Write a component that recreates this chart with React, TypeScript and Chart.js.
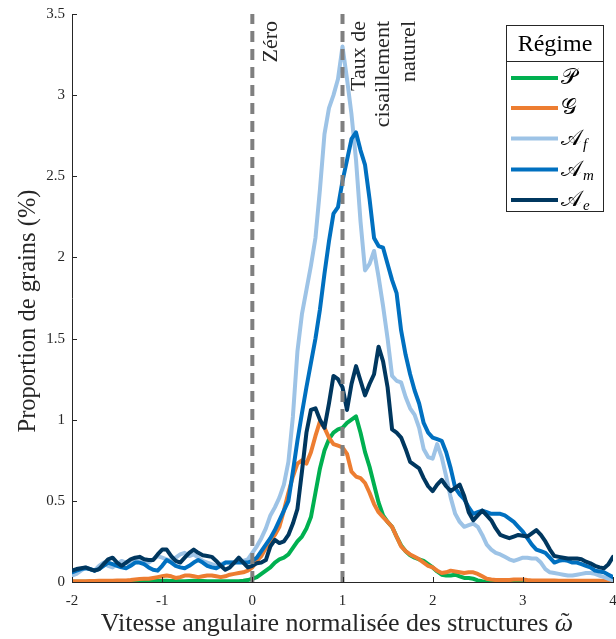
import React, { useEffect, useRef } from 'react';
import { Chart, registerables } from 'chart.js';

Chart.register(...registerables);

// Sampling grid of the normalised angular velocity (step 0.05 from -2 to 4)
const omega: number[] = Array.from({ length: 121 }, (_, i) => Math.round((-2 + i * 0.05) * 100) / 100);

const xTicks = [-2, -1, 0, 1, 2, 3, 4];
const yTicks = [0, 0.5, 1, 1.5, 2, 2.5, 3, 3.5];

const regimeP = [
  0.002, 0.002, 0.002, 0.002, 0.002, 0.002, 0.002, 0.002, 0.002, 0.002,
  0.002, 0.002, 0.002, 0.002, 0.003, 0.003, 0.004, 0.005, 0.006, 0.006,
  0.007, 0.007, 0.006, 0.006, 0.005, 0.005, 0.006, 0.007, 0.007, 0.006,
  0.005, 0.004, 0.004, 0.004, 0.005, 0.005, 0.005, 0.005, 0.008, 0.012,
  0.02, 0.03, 0.05, 0.07, 0.09, 0.12, 0.14, 0.15, 0.17, 0.21,
  0.25, 0.28, 0.33, 0.40, 0.55, 0.70, 0.81, 0.88, 0.92, 0.94,
  0.95, 0.98, 1.00, 1.02, 0.92, 0.80, 0.71, 0.60, 0.49, 0.41,
  0.37, 0.34, 0.28, 0.225, 0.19, 0.165, 0.15, 0.14, 0.13, 0.11,
  0.09, 0.065, 0.045, 0.04, 0.04, 0.045, 0.035, 0.025, 0.025, 0.02,
  0.01, 0.005, 0.002, 0.001, 0.001, 0.001, 0.001, 0.001, 0.001, 0.001,
  0.001, 0.001, 0.001, 0.001, 0.001, 0.001, 0.001, 0.001, 0.001, 0.001,
  0.001, 0.001, 0.001, 0.001, 0.001, 0.001, 0.001, 0.001, 0.001, 0.001,
  0.001,
];

const regimeG = [
  0.005, 0.005, 0.005, 0.005, 0.006, 0.006, 0.007, 0.007, 0.008, 0.008,
  0.009, 0.01, 0.01, 0.012, 0.015, 0.018, 0.02, 0.02, 0.025, 0.03,
  0.035, 0.04, 0.035, 0.025, 0.03, 0.04, 0.04, 0.035, 0.03, 0.035,
  0.04, 0.04, 0.035, 0.03, 0.035, 0.045, 0.05, 0.055, 0.06, 0.07,
  0.09, 0.13, 0.16, 0.21, 0.25, 0.29, 0.34, 0.44, 0.55, 0.65,
  0.73, 0.75, 0.73, 0.80, 0.90, 0.99, 0.95, 0.89, 0.85, 0.84,
  0.83, 0.79, 0.68, 0.65, 0.64, 0.61, 0.55, 0.48, 0.43, 0.40,
  0.37, 0.34, 0.28, 0.22, 0.19, 0.17, 0.155, 0.14, 0.12, 0.10,
  0.09, 0.07, 0.055, 0.06, 0.07, 0.065, 0.06, 0.055, 0.06, 0.06,
  0.05, 0.035, 0.02, 0.015, 0.012, 0.012, 0.012, 0.012, 0.015, 0.015,
  0.015, 0.012, 0.01, 0.01, 0.01, 0.01, 0.009, 0.009, 0.008, 0.008,
  0.008, 0.008, 0.008, 0.008, 0.008, 0.007, 0.007, 0.007, 0.006, 0.006,
  0.006,
];

const regimeAf = [
  0.04, 0.05, 0.07, 0.09, 0.08, 0.07, 0.10, 0.12, 0.10, 0.09,
  0.11, 0.13, 0.12, 0.11, 0.13, 0.15, 0.13, 0.12, 0.14, 0.16,
  0.15, 0.14, 0.13, 0.15, 0.17, 0.18, 0.16, 0.17, 0.15, 0.13,
  0.12, 0.11, 0.10, 0.11, 0.12, 0.12, 0.12, 0.13, 0.13, 0.14,
  0.18, 0.22, 0.27, 0.33, 0.41, 0.46, 0.52, 0.60, 0.74, 1.02,
  1.42, 1.65, 1.80, 1.95, 2.12, 2.42, 2.76, 2.92, 3.00, 3.10,
  3.30, 3.10, 2.88, 2.60, 2.22, 1.92, 1.96, 2.04, 1.88, 1.70,
  1.50, 1.27, 1.24, 1.23, 1.14, 1.07, 1.03, 0.95, 0.82, 0.77,
  0.76, 0.85, 0.77, 0.65, 0.52, 0.42, 0.37, 0.34, 0.35, 0.36,
  0.34, 0.29, 0.23, 0.20, 0.18, 0.17, 0.155, 0.14, 0.13, 0.14,
  0.15, 0.15, 0.145, 0.145, 0.12, 0.08, 0.06, 0.055, 0.05, 0.045,
  0.04, 0.04, 0.045, 0.05, 0.055, 0.055, 0.05, 0.04, 0.03, 0.02,
  0.01,
];

const regimeAm = [
  0.06, 0.07, 0.08, 0.085, 0.08, 0.07, 0.08, 0.10, 0.12, 0.11,
  0.10, 0.09, 0.085, 0.10, 0.12, 0.12, 0.11, 0.09, 0.075, 0.07,
  0.10, 0.135, 0.12, 0.10, 0.09, 0.085, 0.10, 0.12, 0.135, 0.12,
  0.10, 0.09, 0.085, 0.10, 0.12, 0.12, 0.12, 0.12, 0.12, 0.12,
  0.13, 0.15, 0.19, 0.23, 0.27, 0.32, 0.38, 0.44, 0.50, 0.68,
  0.87, 1.04, 1.20, 1.35, 1.50, 1.68, 1.90, 2.10, 2.27, 2.31,
  2.47, 2.60, 2.73, 2.77, 2.66, 2.57, 2.36, 2.12, 2.07, 2.06,
  1.96, 1.86, 1.78, 1.55, 1.40, 1.28, 1.18, 1.10, 0.98, 0.92,
  0.89, 0.88, 0.87, 0.80, 0.70, 0.58, 0.54, 0.51, 0.46, 0.42,
  0.43, 0.44, 0.43, 0.42, 0.42, 0.42, 0.41, 0.39, 0.37, 0.34,
  0.31, 0.27, 0.23, 0.20, 0.19, 0.18, 0.15, 0.12, 0.13, 0.135,
  0.13, 0.12, 0.12, 0.11, 0.10, 0.09, 0.07, 0.065, 0.06, 0.045,
  0.03,
];

const regimeAe = [
  0.07, 0.08, 0.085, 0.09, 0.08, 0.07, 0.08, 0.11, 0.14, 0.15,
  0.12, 0.10, 0.12, 0.14, 0.15, 0.155, 0.14, 0.135, 0.135, 0.17,
  0.20, 0.20, 0.16, 0.13, 0.12, 0.15, 0.18, 0.20, 0.18, 0.165,
  0.16, 0.155, 0.13, 0.10, 0.075, 0.09, 0.12, 0.15, 0.12, 0.09,
  0.10, 0.115, 0.12, 0.135, 0.22, 0.26, 0.24, 0.25, 0.29, 0.36,
  0.45, 0.68, 0.92, 1.06, 1.07, 1.00, 0.95, 1.10, 1.27, 1.25,
  1.20, 1.06, 1.22, 1.33, 1.24, 1.15, 1.22, 1.28, 1.45, 1.36,
  1.20, 0.94, 0.92, 0.89, 0.82, 0.74, 0.72, 0.70, 0.64, 0.59,
  0.56, 0.60, 0.63, 0.59, 0.56, 0.58, 0.60, 0.53, 0.43, 0.38,
  0.41, 0.44, 0.41, 0.38, 0.33, 0.29, 0.28, 0.27, 0.28, 0.29,
  0.285, 0.28, 0.30, 0.32, 0.29, 0.25, 0.20, 0.16, 0.155, 0.15,
  0.145, 0.145, 0.145, 0.14, 0.125, 0.115, 0.10, 0.09, 0.085, 0.11,
  0.155,
];

const markers = [0, 1];
const markerTop = 3.5;

const seriesNames = ['\u{1D4AB}', '\u{1D4A2}', '\u{1D49C}', '\u{1D49C}', '\u{1D49C}'];
const seriesSubs = ['', '', 'f', 'm', 'e'];
const seriesColors = ['#00B050', '#ED7D31', '#9DC3E6', '#0070C0', '#00375F'];
const seriesValues = [regimeP, regimeG, regimeAf, regimeAm, regimeAe];

const xTitle = 'Vitesse angulaire normalisée des structures ';
const xTitleSymbol = 'ω';
const yTitle = 'Proportion de grains (%)';

const SERIF = '"Liberation Serif", "DejaVu Serif", serif';
const INK = '#262626';

const overlayPlugin = {
  id: 'overlay',
  afterDraw(chart: any) {
    const { ctx, chartArea, scales } = chart;
    const xs = scales.x;
    const ys = scales.y;
    ctx.save();
    // inner tick marks
    ctx.strokeStyle = INK;
    ctx.lineWidth = 1;
    ctx.beginPath();
    xTicks.forEach((v) => {
      const px = Math.round(xs.getPixelForValue(v)) + 0.5;
      ctx.moveTo(px, chartArea.bottom);
      ctx.lineTo(px, chartArea.bottom - 5);
    });
    yTicks.forEach((v) => {
      const py = Math.round(ys.getPixelForValue(v)) + 0.5;
      ctx.moveTo(chartArea.left, py);
      ctx.lineTo(chartArea.left + 5, py);
    });
    ctx.stroke();

    // axis titles
    ctx.fillStyle = INK;
    ctx.textBaseline = 'alphabetic';
    ctx.font = `26px ${SERIF}`;
    const w1 = ctx.measureText(xTitle).width;
    ctx.font = `italic 26px ${SERIF}`;
    const w2 = ctx.measureText(xTitleSymbol).width;
    const xCenter = 337;
    const xStart = xCenter - (w1 + w2) / 2;
    const xBase = 631;
    ctx.textAlign = 'left';
    ctx.font = `26px ${SERIF}`;
    ctx.fillText(xTitle, xStart, xBase);
    ctx.font = `italic 26px ${SERIF}`;
    ctx.fillText(xTitleSymbol, xStart + w1, xBase);
    ctx.font = `26px ${SERIF}`;
    ctx.textAlign = 'center';
    ctx.fillText('˜', xStart + w1 + w2 / 2 + 1, xBase - 1);

    ctx.save();
    ctx.translate(35, 311);
    ctx.rotate(-Math.PI / 2);
    ctx.textAlign = 'center';
    ctx.font = `24.5px ${SERIF}`;
    ctx.fillText(yTitle, 0, 0);
    ctx.restore();

    // rotated annotations
    const top = 21;
    const drawRot = (text: string, x: number) => {
      ctx.save();
      ctx.translate(x, top);
      ctx.rotate(-Math.PI / 2);
      ctx.textAlign = 'right';
      ctx.textBaseline = 'alphabetic';
      ctx.fillStyle = INK;
      ctx.font = `22px ${SERIF}`;
      ctx.fillText(text, 0, 0);
      ctx.restore();
    };
    drawRot('Zéro', 277);
    drawRot('Taux de', 365);
    drawRot('cisaillement', 389);
    drawRot('naturel', 415);

    // legend
    const L = 506.5, T = 25.5, R = 603.5, B = 211.5;
    ctx.fillStyle = '#ffffff';
    ctx.fillRect(L, T, R - L, B - T);
    ctx.strokeStyle = INK;
    ctx.lineWidth = 1;
    ctx.strokeRect(L, T, R - L, B - T);
    ctx.beginPath();
    ctx.moveTo(L, 61.5);
    ctx.lineTo(R, 61.5);
    ctx.stroke();
    ctx.fillStyle = '#000000';
    ctx.font = `24px ${SERIF}`;
    ctx.textAlign = 'center';
    ctx.textBaseline = 'alphabetic';
    ctx.fillText('Régime', (L + R) / 2, 51);
    const rows = [78, 108, 138.5, 169.5, 200];
    rows.forEach((ry, i) => {
      ctx.strokeStyle = seriesColors[i];
      ctx.lineWidth = 4;
      ctx.beginPath();
      ctx.moveTo(511, ry);
      ctx.lineTo(558, ry);
      ctx.stroke();
      ctx.fillStyle = '#000000';
      ctx.textAlign = 'left';
      ctx.font = `22px ${SERIF}`;
      ctx.fillText(seriesNames[i], 561, ry + 6);
      const w = ctx.measureText(seriesNames[i]).width;
      if (seriesSubs[i]) {
        ctx.font = `italic 15px ${SERIF}`;
        ctx.fillText(seriesSubs[i], 561 + w + 1, ry + 10);
      }
    });
    ctx.restore();
  },
};

export default function App() {
  const ref = useRef<HTMLCanvasElement>(null);
  useEffect(() => {
    document.body.style.margin = '0';
    const markerSets = markers.map((m) => ({
      label: `m${m}`,
      data: [
        { x: m, y: 0 },
        { x: m, y: markerTop },
      ],
      borderColor: '#7F7F7F',
      borderWidth: 4,
      borderDash: [11, 7],
      pointRadius: 0,
      order: 0,
      clip: 0,
    }));
    const lineSets = seriesValues.map((vals, i) => ({
      label: seriesNames[i] + seriesSubs[i],
      data: omega.map((x, k) => ({ x, y: vals[k] })),
      borderColor: seriesColors[i],
      borderWidth: 4,
      pointRadius: 0,
      tension: 0,
      borderJoinStyle: 'round' as const,
      borderCapStyle: 'round' as const,
      order: 5 - i,
      clip: 0,
    }));
    const chart = new Chart(ref.current!, {
      type: 'line',
      data: { datasets: [...lineSets, ...markerSets] as any },
      options: {
        responsive: false,
        animation: false,
        events: [],
        layout: { padding: { top: 14, right: 3, left: 0, bottom: 0 } },
        plugins: { legend: { display: false }, tooltip: { enabled: false } },
        scales: {
          x: {
            type: 'linear',
            min: -2,
            max: 4,
            ticks: {
              stepSize: 1,
              autoSkip: false,
              maxRotation: 0,
              padding: 10,
              color: INK,
              font: { family: SERIF, size: 15 },
              callback: (v: any) => String(v),
            },
            grid: { display: false, drawTicks: false },
            border: { display: true, color: INK, width: 1 },
            title: { display: false },
            afterFit(s: any) {
              s.height = 57;
              s.paddingLeft = 0;
              s.paddingRight = 0;
            },
          },
          y: {
            type: 'linear',
            min: 0,
            max: 3.5,
            ticks: {
              stepSize: 0.5,
              padding: 7,
              color: INK,
              font: { family: SERIF, size: 15 },
              callback: (v: any) => String(v),
            },
            grid: { display: false, drawTicks: false },
            border: { display: true, color: INK, width: 1 },
            title: { display: false },
            afterFit(s: any) {
              s.width = 72;
              s.paddingTop = 0;
              s.paddingBottom = 0;
            },
          },
        },
      },
      plugins: [overlayPlugin],
    });
    return () => chart.destroy();
  }, []);
  return (
    <div style={{ width: 616, height: 639 }}>
      <canvas ref={ref} width={616} height={639} style={{ display: 'block', width: 616, height: 639 }} />
    </div>
  );
}
